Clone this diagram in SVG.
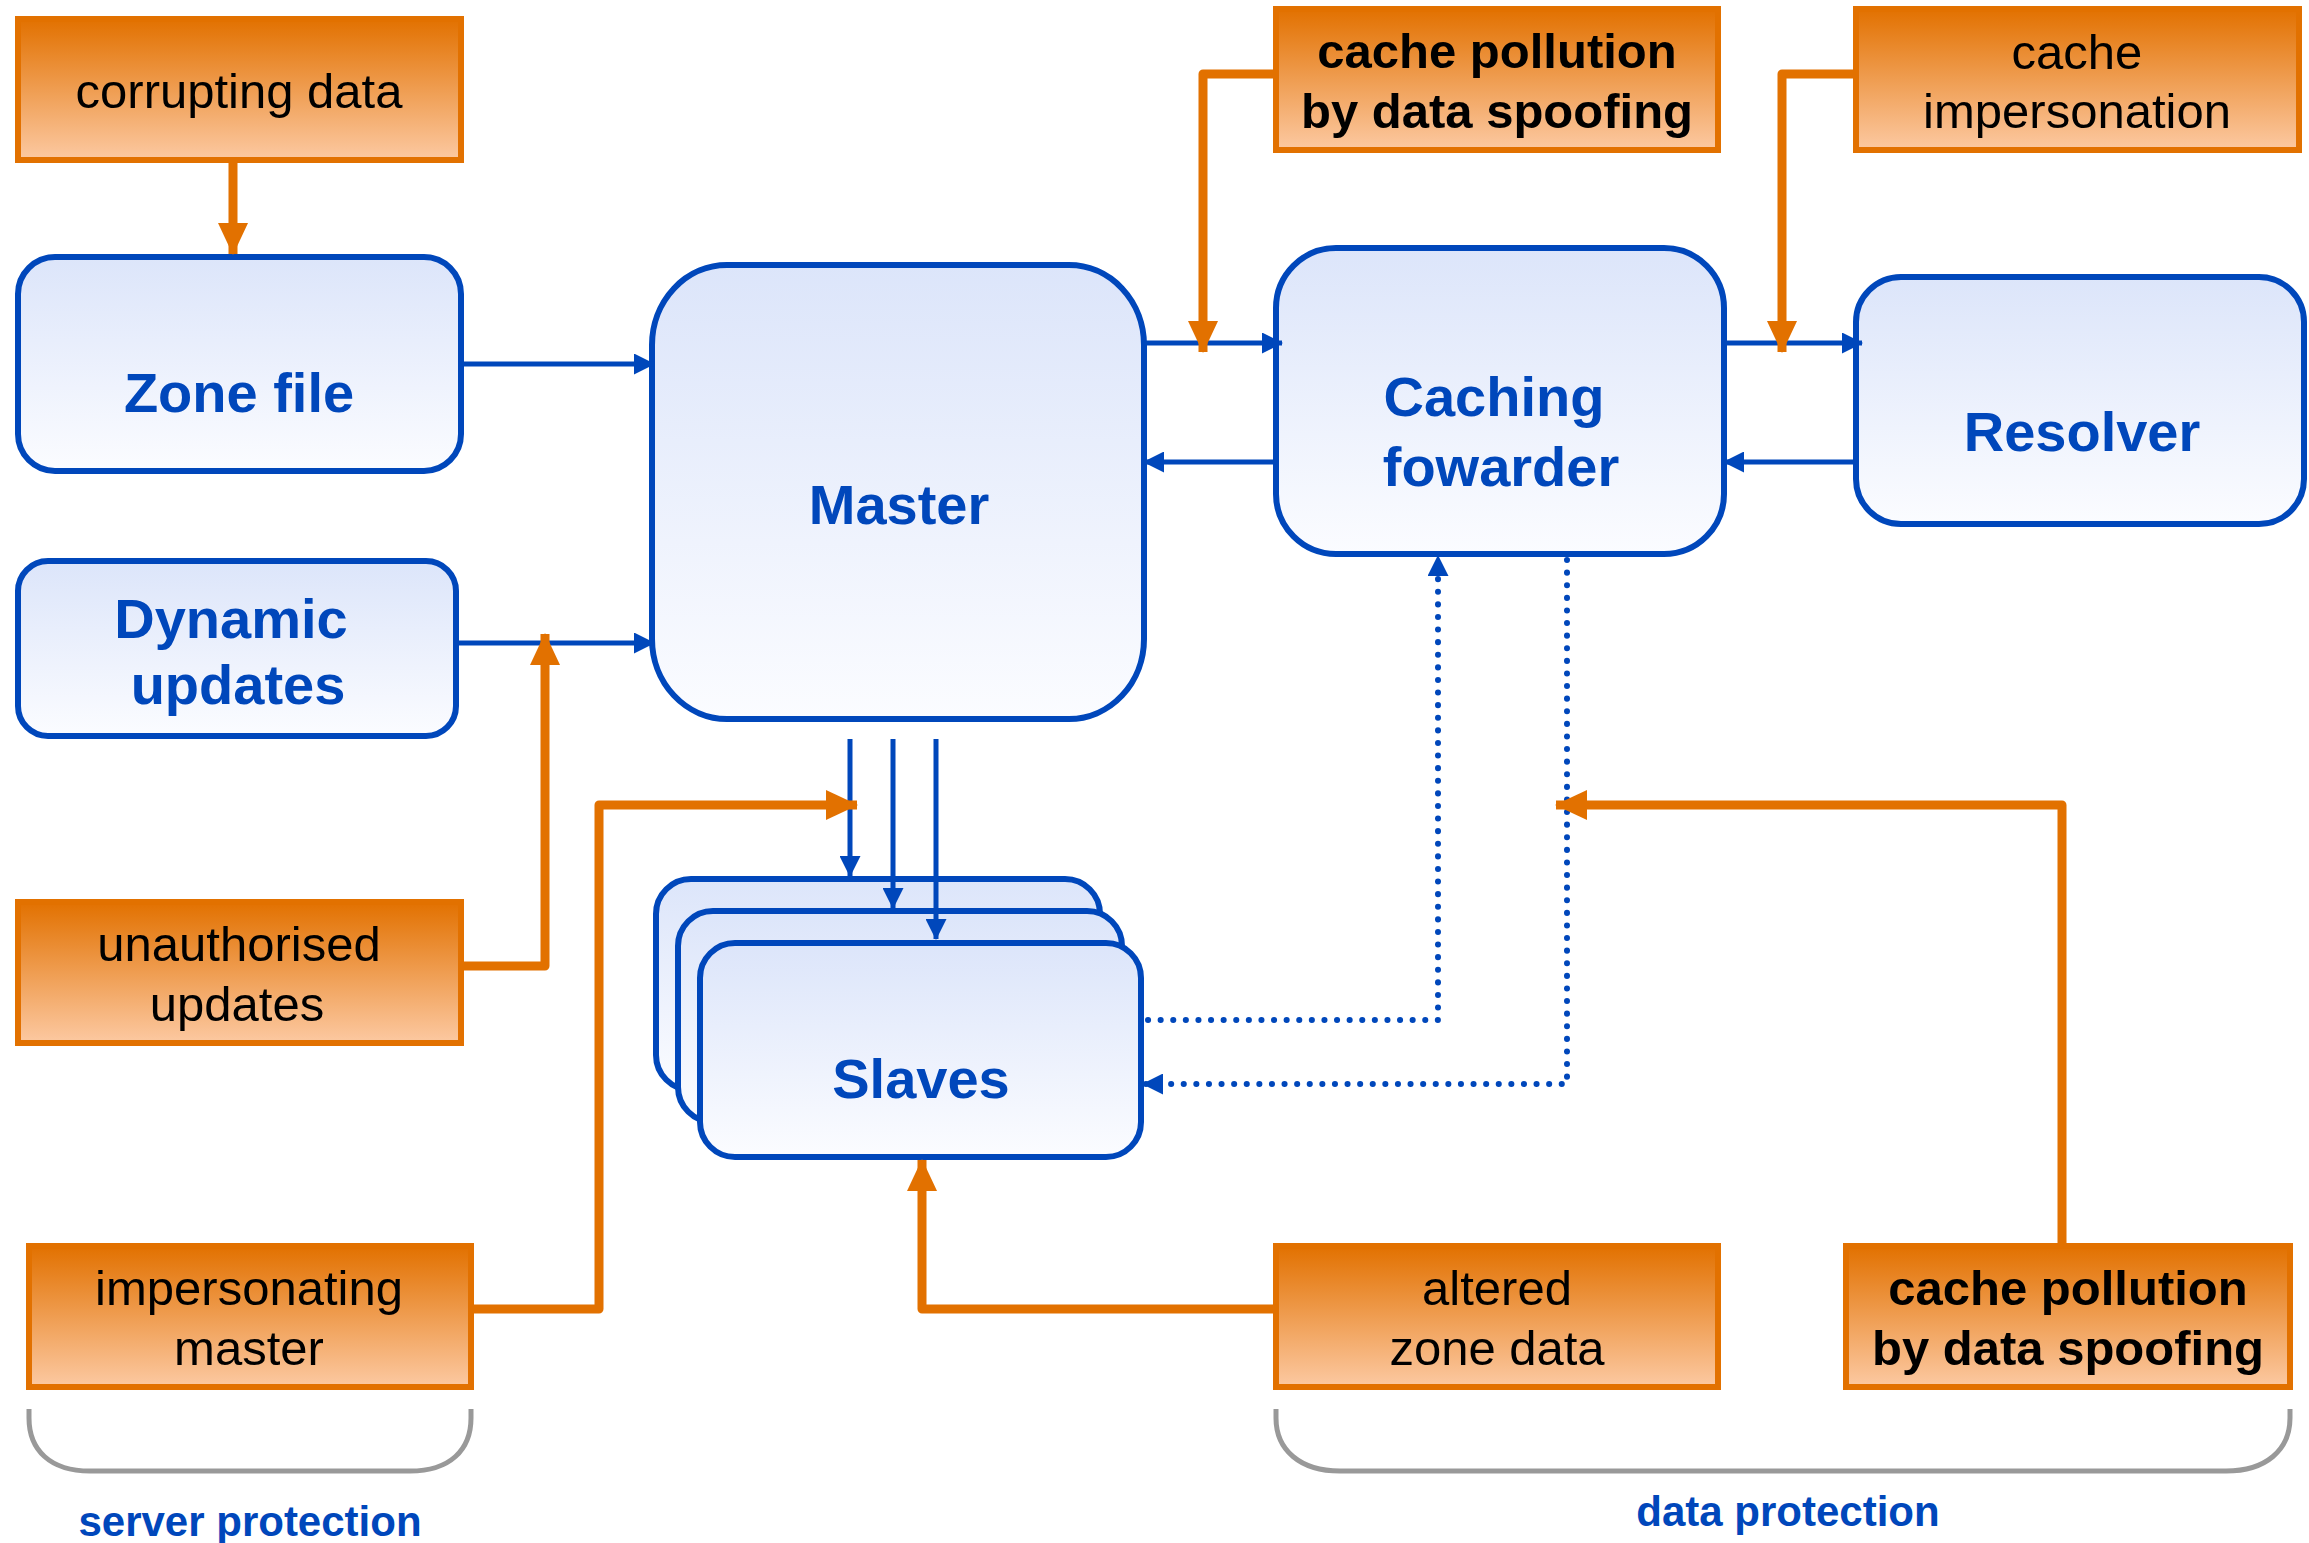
<svg xmlns="http://www.w3.org/2000/svg" width="2309" height="1543" viewBox="0 0 2309 1543">
<defs>
<linearGradient id="gO" x1="0" y1="0" x2="0" y2="1">
<stop offset="0" stop-color="#E27100"/>
<stop offset="1" stop-color="#FCC9A2"/>
</linearGradient>
<linearGradient id="gB" x1="0" y1="0" x2="0" y2="1">
<stop offset="0" stop-color="#DCE5FA"/>
<stop offset="1" stop-color="#FBFCFF"/>
</linearGradient>
<marker id="mB" markerUnits="userSpaceOnUse" markerWidth="21" markerHeight="21" refX="20" refY="10.5" orient="auto">
<path d="M0,0 L21,10.5 L0,21 z" fill="#0047BB"/>
</marker>
<marker id="mO" markerUnits="userSpaceOnUse" markerWidth="32" markerHeight="30" refX="31" refY="15" orient="auto">
<path d="M0,0 L32,15 L0,30 z" fill="#E27100"/>
</marker>
<style>
.ob{fill:url(#gO);stroke:#E27100;stroke-width:6}
.bn{fill:url(#gB);stroke:#0047BB;stroke-width:6}
.ot{font-family:"Liberation Sans",Arial,sans-serif;font-size:49px;fill:#000;text-anchor:middle}
.otb{font-weight:bold}
.bt{font-family:"Liberation Sans",Arial,sans-serif;font-size:56px;font-weight:bold;fill:#0047BB;text-anchor:middle}
.lt{font-family:"Liberation Sans",Arial,sans-serif;font-size:42px;font-weight:bold;fill:#0047BB;text-anchor:middle}
.bl{stroke:#0047BB;stroke-width:5;fill:none;marker-end:url(#mB)}
.bd{stroke:#0047BB;stroke-width:6;fill:none;stroke-dasharray:0.1 12.5;stroke-linecap:round;marker-end:url(#mB)}
.ol{stroke:#E27100;stroke-width:9;fill:none;stroke-linejoin:round;marker-end:url(#mO)}
.br{stroke:#999;stroke-width:5;fill:none}
</style>
</defs>
<rect width="2309" height="1543" fill="#fff"/>

<g id="zone-file"><rect class="bn" x="18" y="257" width="443" height="214" rx="37"/><text class="bt" x="239" y="412">Zone file</text></g>
<g id="dynamic-updates"><rect class="bn" x="18" y="561" width="438" height="175" rx="30"/><text class="bt" x="231" y="638">Dynamic</text><text class="bt" x="238" y="704">updates</text></g>
<g id="master"><rect class="bn" x="652" y="265" width="492" height="454" rx="75" ry="80"/><text class="bt" x="899" y="524">Master</text></g>
<g id="caching-fowarder"><rect class="bn" x="1276" y="248" width="448" height="306" rx="60"/><text class="bt" x="1494" y="416">Caching</text><text class="bt" x="1501" y="486">fowarder</text></g>
<g id="resolver"><rect class="bn" x="1856" y="277" width="448" height="247" rx="45"/><text class="bt" x="2082" y="451">Resolver</text></g>
<g id="slaves">
<rect class="bn" x="656" y="879" width="444" height="211" rx="35"/>
<rect class="bn" x="678" y="911" width="444" height="211" rx="35"/>
<rect class="bn" x="700" y="943" width="441" height="214" rx="35"/>
<text class="bt" x="921" y="1098">Slaves</text>
</g>

<g id="corrupting-data"><rect class="ob" x="18" y="19" width="443" height="141"/><text class="ot" x="239" y="108">corrupting data</text></g>
<g id="cache-pollution-top"><rect class="ob" x="1276" y="9" width="442" height="141"/><text class="ot otb" x="1497" y="68">cache pollution</text><text class="ot otb" x="1497" y="128">by data spoofing</text></g>
<g id="cache-impersonation"><rect class="ob" x="1856" y="9" width="443" height="141"/><text class="ot" x="2077" y="69">cache</text><text class="ot" x="2077" y="128">impersonation</text></g>
<g id="unauthorised-updates"><rect class="ob" x="18" y="902" width="443" height="141"/><text class="ot" x="239" y="961">unauthorised</text><text class="ot" x="237" y="1021">updates</text></g>
<g id="impersonating-master"><rect class="ob" x="29" y="1246" width="442" height="141"/><text class="ot" x="249" y="1305">impersonating</text><text class="ot" x="249" y="1365">master</text></g>
<g id="altered-zone-data"><rect class="ob" x="1276" y="1246" width="442" height="141"/><text class="ot" x="1497" y="1305">altered</text><text class="ot" x="1497" y="1365">zone data</text></g>
<g id="cache-pollution-bottom"><rect class="ob" x="1846" y="1246" width="444" height="141"/><text class="ot otb" x="2068" y="1305">cache pollution</text><text class="ot otb" x="2068" y="1365">by data spoofing</text></g>

<g id="connectors">
<line class="bl" x1="461" y1="364" x2="654" y2="364"/>
<line class="bl" x1="456" y1="643" x2="654" y2="643"/>
<line class="bl" x1="1144" y1="343" x2="1282" y2="343"/>
<line class="bl" x1="1276" y1="462" x2="1144" y2="462"/>
<line class="bl" x1="1724" y1="343" x2="1862" y2="343"/>
<line class="bl" x1="1856" y1="462" x2="1724" y2="462"/>
<line class="bl" x1="850" y1="739" x2="850" y2="876"/>
<line class="bl" x1="893" y1="739" x2="893" y2="908"/>
<line class="bl" x1="936" y1="739" x2="936" y2="939"/>
<path class="bd" d="M1148,1020 H1438 V556"/>
<path class="bd" d="M1567,560 V1084 H1143"/>
<line class="ol" x1="233" y1="160" x2="233" y2="254"/>
<path class="ol" d="M1276,74 H1203 V352"/>
<path class="ol" d="M1856,74 H1782 V352"/>
<path class="ol" d="M461,966 H545 V634"/>
<path class="ol" d="M471,1309 H599 V805 H857"/>
<path class="ol" d="M1276,1309 H922 V1160"/>
<path class="ol" d="M2062,1246 V805 H1556"/>
</g>

<g id="braces">
<path class="br" d="M29,1409 V1418 C29,1450 50,1471 90,1471 H410 C450,1471 471,1450 471,1418 V1409"/>
<path class="br" d="M1276,1409 V1418 C1276,1450 1300,1471 1340,1471 H2226 C2266,1471 2290,1450 2290,1418 V1409"/>
<text class="lt" x="250" y="1536">server protection</text>
<text class="lt" x="1788" y="1526">data protection</text>
</g>
</svg>
